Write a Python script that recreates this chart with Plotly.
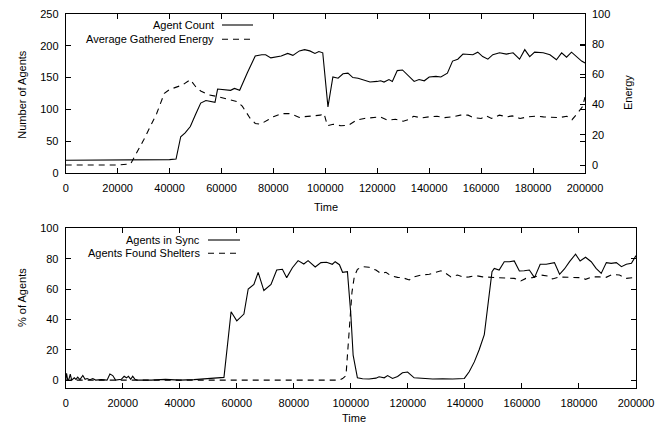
import plotly.graph_objects as go

# ---------------- data ----------------
count_x = [0, 10000, 20000, 30000, 35000, 37000, 40000, 42500, 44300, 46000, 48000, 50000,
           52000, 54000, 56000, 57500, 58500, 61000, 63500, 65000, 67000, 70000, 73000,
           75500, 77000, 79000, 81000, 83000, 85500, 87500, 90000, 92000, 94000, 96000,
           97500, 99000, 101000, 102900, 104900, 106800, 108700, 110600, 112600, 114500,
           117200, 119900, 121300, 122600, 124500, 125800, 127700, 129700, 132300, 134200,
           136100, 138100, 140000, 142600, 144500, 147000, 149000, 151000, 153000, 154800,
           156800, 158700, 160600, 162600, 164500, 167100, 169700, 172300, 174800, 176800,
           178700, 180600, 183900, 186500, 189000, 191000, 192900, 194800, 196800, 198700,
           200000]
count_y = [20, 20, 20, 20, 20, 21, 21, 22, 57, 63, 73, 92,
           110, 114, 112, 111, 132, 131, 130, 133, 130, 158, 184,
           186, 186, 181, 183, 184, 188, 185, 192, 194, 192, 188,
           191, 189, 104, 151, 149, 156, 157, 150, 149, 146,
           143, 144, 145, 143, 147, 144, 161, 162, 152, 144,
           147, 145, 151, 152, 151, 157, 176, 179, 187, 186,
           186, 190, 183, 179, 186, 189, 187, 189, 179, 194,
           183, 190, 189, 186, 178, 189, 182, 190, 183, 176,
           173]

energy_x = [0, 10000, 20000, 25000, 30000, 35000, 38000, 40000, 43000, 45000, 48000, 50000,
            52000, 55000, 58000, 62000, 66000, 68000, 71000, 73000, 75000, 78000, 80000,
            83000, 86000, 88000, 90000, 92000, 95000, 98000, 99500, 100800, 103000, 106000,
            109000, 112000, 115000, 118000, 121000, 124000, 127000, 130000, 132000, 134000,
            137000, 140000, 143000, 146000, 149000, 152000, 155000, 157000, 160000, 162000,
            164000, 167000, 170000, 172000, 175000, 178000, 181000, 184000, 187000, 190000,
            193000, 195000, 197000, 199000, 200000]
energy_y = [0, 0, 0, 0.7, 16.5, 34, 47.5, 50, 51.6, 53, 56.5, 52,
            49, 46.5, 45.5, 44, 42, 39, 31, 27.5, 27, 30, 32,
            34, 34, 33, 31.5, 32, 32.5, 33, 34, 26, 27, 26,
            26.4, 29.7, 30.8, 31.4, 31.9, 29.7, 30.3, 29, 30, 32.3,
            31.2, 31.9, 32.3, 31.4, 31.9, 33, 33, 31.4, 30.8, 32.5,
            30.8, 33, 31.9, 32.5, 30.8, 31.9, 32.3, 31.9, 31.9, 31.4,
            32.3, 30, 34, 38.5, 45]

sync_x = [0, 300, 700, 1200, 1600, 2100, 3000, 3600, 4200, 5000, 6000, 6800, 7500, 8500,
          9500, 10500, 12500, 14500, 15500, 16500, 17500, 19500, 20500, 21300, 22000, 22800,
          23500, 24300, 25000, 30000, 35000, 40000, 45000, 50000, 55500, 58000, 60000, 62500,
          64000, 66000, 67500, 69500, 72000, 74000, 76000, 77500, 79500, 81500, 83500, 85000,
          87500, 89500, 91500, 93500, 94500, 96000, 97100, 98800, 100000, 100800, 102300,
          104100, 106400, 108800, 109900, 111700, 112900, 114600, 116400, 118100, 119900,
          122200, 125100, 128700, 132200, 135700, 139800, 141500, 143300, 145000, 146800,
          148200, 149500, 150300, 152000, 153800, 155600, 157300, 159100, 160800, 162600,
          164400, 166400, 168500, 171400, 173200, 174900, 176700, 178800, 180400, 182300,
          184300, 186000, 187800, 189600, 191300, 193100, 194900, 196600, 198400, 200000]
sync_y = [0, 4.5, 0, 1, 4, 0, 1.5, 0.5, 2, 0.3, 3, 0.5, 1, 0.3,
          1, 0, 0.3, 0, 4, 3, 0, 0.5, 2.5, 1.5, 2.5, 0.5,
          2.5, 0.5, 0, 0, 0.5, 0, 0.3, 0.8, 1.8, 45, 39, 43.5,
          60, 63, 71, 59, 63, 72.5, 73, 67.5, 74, 78.7, 76.5, 78.7,
          74.5, 77.4, 77.6, 76.3, 78, 76, 71, 71.4, 43, 16.5, 1.5,
          0.9, 0.7, 1.3, 2.2, 1.5, 3, 1.1, 2.4, 4.8, 5.3,
          1.5, 1.1, 0.7, 0.9, 0.7, 1.1, 5.5, 12, 20, 30,
          51.6, 71.4, 73.6, 72.5, 78, 78, 78.5, 71.9, 72, 72.5,
          67.5, 76.3, 76.3, 77.4, 69.7, 73.2, 78, 82.9, 78.5, 80.9,
          78, 73.6, 70.3, 77.4, 76.9, 77.4, 74.7, 76.3, 76.9, 82]

shelter_x = [0, 50000, 96000, 97100, 98300, 99400, 100400, 101200, 102300, 104100, 106400,
             108800, 110500, 112300, 114000, 116400, 118100, 120500, 122200, 124600, 127500,
             129800, 131600, 133300, 135100, 137400, 139800, 141500, 143900, 146200, 149100,
             152000, 154400, 157300, 159600, 161400, 163700, 166700, 169000, 170700, 173100,
             175400, 177700, 180600, 182300, 184700, 187100, 189500, 191800, 194200, 196600,
             198900]
shelter_y = [0, 0, 0, 1, 3, 32, 58, 68, 73, 74.7, 74.3,
             72.5, 70.3, 71, 68.8, 67.7, 67.5, 66, 68, 69.2, 69.7,
             71, 72, 70.3, 68, 69.2, 67.7, 68, 68.8, 68, 67.7,
             67.5, 67.5, 67, 65.3, 67, 67.5, 69.2, 68.6, 66.6, 67.9,
             67.7, 67.5, 67.5, 66.4, 68, 68, 67.7, 69.7, 69.2, 67,
             67.5]

x_ticks = list(range(0, 200001, 20000))
count_ticks = [0, 50, 100, 150, 200, 250]
pct_ticks = [0, 20, 40, 60, 80, 100]

# ---------------- figure ----------------
W, H = 666, 425
FONT = dict(family="Liberation Sans, Arial, Helvetica, sans-serif", size=11, color="black")
DASH = "6px,5px"


def px(x):
    return x / W


def py(y):
    return 1 - y / H


fig = go.Figure()
fig.add_trace(go.Scatter(x=count_x, y=count_y, xaxis="x", yaxis="y", mode="lines",
                         line=dict(color="black", width=1.1), name="Agent Count"))
fig.add_trace(go.Scatter(x=energy_x, y=energy_y, xaxis="x", yaxis="y2", mode="lines",
                         line=dict(color="black", width=1.1, dash=DASH),
                         name="Average Gathered Energy"))
fig.add_trace(go.Scatter(x=sync_x, y=sync_y, xaxis="x2", yaxis="y3", mode="lines",
                         line=dict(color="black", width=1.1), name="Agents in Sync"))
fig.add_trace(go.Scatter(x=shelter_x, y=shelter_y, xaxis="x2", yaxis="y3", mode="lines",
                         line=dict(color="black", width=1.1, dash=DASH),
                         name="Agents Found Shelters"))

axis_common = dict(showline=True, linecolor="black", linewidth=1, ticks="inside",
                   ticklen=5, tickcolor="black", tickwidth=1, showgrid=False,
                   zeroline=False, tickfont=FONT, automargin=False)

top_dom_x = [px(65.7), px(585)]
top_dom_y = [py(173), py(14)]
bot_dom_x = [px(65.7), px(636)]
bot_dom_y = [py(387.7), py(228.3)]

fig.update_layout(
    width=W, height=H,
    margin=dict(l=0, r=0, t=0, b=0),
    paper_bgcolor="white", plot_bgcolor="white",
    showlegend=False,
    font=FONT,
    xaxis=dict(domain=top_dom_x, anchor="y", range=[0, 200000], tickvals=x_ticks,
               ticktext=[str(v) for v in x_ticks], mirror="ticks",
               ticklabelstandoff=5, **axis_common),
    yaxis=dict(domain=top_dom_y, anchor="x", range=[0, 250], tickvals=count_ticks,
               mirror="ticks", ticklabelstandoff=4, **axis_common),
    yaxis2=dict(overlaying="y", side="right", anchor="x", range=[-5.3, 100],
                tickvals=pct_ticks, showline=False, ticks="inside", ticklen=5,
                tickcolor="black", tickwidth=1, showgrid=False, zeroline=False,
                tickfont=FONT, automargin=False, ticklabelstandoff=6),
    xaxis2=dict(domain=bot_dom_x, anchor="y3", range=[0, 200000], tickvals=x_ticks,
                ticktext=[str(v) for v in x_ticks], mirror="ticks",
                ticklabelstandoff=5, **axis_common),
    yaxis3=dict(domain=bot_dom_y, anchor="x2", range=[-5, 100], tickvals=pct_ticks,
                mirror="ticks", ticklabelstandoff=4, **axis_common),
)

# axis titles
annos = [
    dict(text="Number of Agents", x=px(21.7), y=py(94), textangle=-90),
    dict(text="Energy", x=px(628), y=py(93), textangle=-90),
    dict(text="Time", x=px(326), y=py(207)),
    dict(text="% of Agents", x=px(22), y=py(298), textangle=-90),
    dict(text="Time", x=px(354), y=py(418)),
]
for a in annos:
    fig.add_annotation(xref="paper", yref="paper", showarrow=False, font=FONT,
                       xanchor="center", yanchor="middle", **a)

# key (gnuplot style: text then sample on the right)
keys = [
    ("Agent Count", 216, 25, 222, 253, None),
    ("Average Gathered Energy", 216, 39.3, 222, 253, DASH),
    ("Agents in Sync", 202, 240, 208, 240, None),
    ("Agents Found Shelters", 202, 253.3, 208, 240, DASH),
]
for label, tx, ty, x0, x1, dash in keys:
    fig.add_annotation(xref="paper", yref="paper", showarrow=False, font=FONT,
                       text=label, x=px(tx), y=py(ty), xanchor="right", yanchor="middle")
    fig.add_shape(type="line", xref="paper", yref="paper", x0=px(x0), x1=px(x1),
                  y0=py(ty), y1=py(ty), line=dict(color="black", width=1.1, dash=dash))

fig.write_html(
    "out.html",
    config={"displayModeBar": False},
    post_script="document.body.style.margin='0';document.body.style.overflow='hidden';",
)
